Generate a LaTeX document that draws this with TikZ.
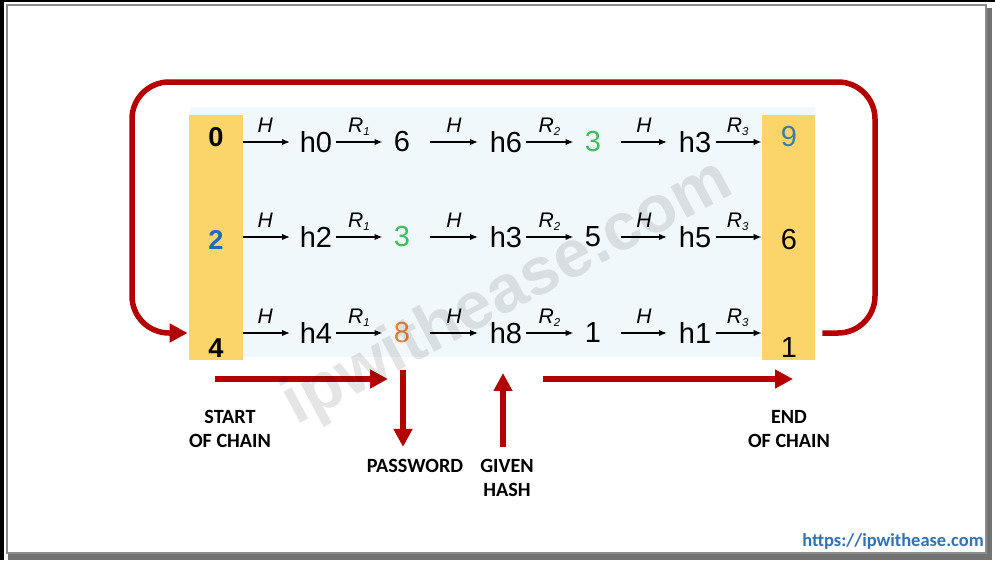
\documentclass[tikz,border=0pt]{standalone}
\usepackage{fontspec}
\setmainfont{Liberation Sans}
\newfontfamily\calfont{Carlito}
\usetikzlibrary{arrows.meta}
\definecolor{boxyellow}{RGB}{252,213,106}
\definecolor{chainred}{RGB}{180,0,0}
\definecolor{hashgreen}{RGB}{64,190,92}
\definecolor{pwdorange}{RGB}{238,130,52}
\definecolor{startblue}{RGB}{30,110,175}
\definecolor{endblue}{RGB}{58,125,165}
\definecolor{urlblue}{RGB}{46,116,181}
\definecolor{tablebg}{RGB}{241,248,252}
\newcommand{\rfun}[1]{R\raisebox{-1.4pt}{\fontsize{6.5}{6.5}\selectfont#1}}
\begin{document}
\begin{tikzpicture}[x=0.02cm, y=-0.02cm,
  txt/.style={inner sep=0pt, font=\fontsize{16.5}{18}\selectfont},
  startnum/.style={inner sep=0pt, font=\fontsize{15.5}{16}\selectfont\bfseries},
  hop/.style={-{Latex[length=1.6mm,width=1.3mm]}, line width=0.3mm},
  hstep/.style={hop, shorten <=5.6mm, shorten >=5.6mm},
  rstep/.style={hop, shorten <=4mm, shorten >=3.9mm},
  lab/.style={anchor=base, yshift=5.2pt, inner sep=0pt, font=\fontsize{12}{12}\selectfont\itshape},
  redarrow/.style={chainred, line width=1.1mm, -{Triangle[length=3.6mm,width=3.6mm]}},
  caption/.style={inner sep=0pt, align=center, font=\calfont\fontsize{11.5}{13.7}\selectfont\bfseries}]
\useasboundingbox (0,0) rectangle (995,568);
% frame
\fill[black] (0,0) rectangle (995,2);
\fill[black] (0,0) rectangle (4,560);
\fill[black!55] (8,8) rectangle (992,560);
\filldraw[fill=white, draw=black!45, line width=0.4mm] (7,5) rectangle (986,553);
% table
\fill[tablebg] (190,107) rectangle (815,357);
\node[fill=boxyellow, inner sep=0pt, minimum width=10.8mm, minimum height=49mm] (lbox) at (216,237.5) {};
\node[fill=boxyellow, inner sep=0pt, minimum width=10.6mm, minimum height=49mm] (rbox) at (788.5,237.5) {};
\node[startnum] (s0) at (216,137) {0};
\node[startnum, text=startblue] (s2) at (216,240) {2};
\node[startnum] (s4) at (216,348) {4};
\node[txt, text=endblue] (e9) at (789,137) {9};
\node[txt] (e6) at (789,240) {6};
\node[txt] (e1) at (789,348) {1};
\foreach \i/\y/\ha/\na/\hb/\nb/\hc in {1/142/h0/6/h6/{\textcolor{hashgreen}{3}}/h3,
    2/237/h2/{\textcolor{hashgreen}{3}}/h3/5/h5,
    3/333/h4/{\textcolor{pwdorange}{8}}/h8/1/h1} {
  \node[txt] (ha\i) at (316,\y) {\ha};
  \node[txt] (na\i) at (402,\y) {\na};
  \node[txt] (hb\i) at (506,\y) {\hb};
  \node[txt] (nb\i) at (593,\y) {\nb};
  \node[txt] (hc\i) at (695,\y) {\hc};
  \draw[hop, shorten >=5.2mm] (lbox.east |- ha\i.center) -- node[lab, pos=0.3] {H} (ha\i.center);
  \draw[rstep] (ha\i.center) -- node[lab] {\rfun{1}} (na\i.center);
  \draw[hstep] (na\i.center) -- node[lab] {H} (hb\i.center);
  \draw[rstep] (hb\i.center) -- node[lab] {\rfun{2}} (nb\i.center);
  \draw[hstep] (nb\i.center) -- node[lab] {H} (hc\i.center);
  \draw[hop, shorten <=4.2mm] (hc\i.center) -- node[lab, pos=0.64] {\rfun{3}} (rbox.west |- hc\i.center);
}
% loop back from end to start
\draw[redarrow, rounded corners=7.4mm, shorten <=1.4mm, shorten >=0.2mm]
  (rbox.east |- ha3.center) -| (875,82) -| (132,333) -- (lbox.west |- ha3.center);
% captions
\node[caption] (startlbl) at (230,429) {START\\OF CHAIN};
\node[caption] (pwdlbl) at (415,466) {PASSWORD};
\node[caption] (hashlbl) at (507,478) {GIVEN\\HASH};
\node[caption] (endlbl) at (789,429) {END\\OF CHAIN};
\node[caption, text=urlblue, font=\calfont\fontsize{10.5}{12}\selectfont\bfseries] (url) at (893,541) {https://ipwithease.com};
\coordinate (startfrom) at (215,379);
\coordinate (startto) at (388,379);
\coordinate (pwdtop) at (403,370);
\coordinate (hashtip) at (503,373);
\coordinate (endfrom) at (543,379);
\coordinate (endto) at (793,379);
\draw[redarrow] (startfrom) -- (startto);
\draw[redarrow, shorten >=2.4mm] (pwdtop) -- (pwdtop |- pwdlbl.north);
\draw[redarrow, shorten <=2.4mm] (hashtip |- hashlbl.north) -- (hashtip);
\draw[redarrow] (endfrom) -- (endto);
% watermark
\node[rotate=28, opacity=0.1, font=\fontsize{38}{38}\selectfont\bfseries] (wmark) at (508,294) {ipwithease.com};
\end{tikzpicture}
\end{document}
